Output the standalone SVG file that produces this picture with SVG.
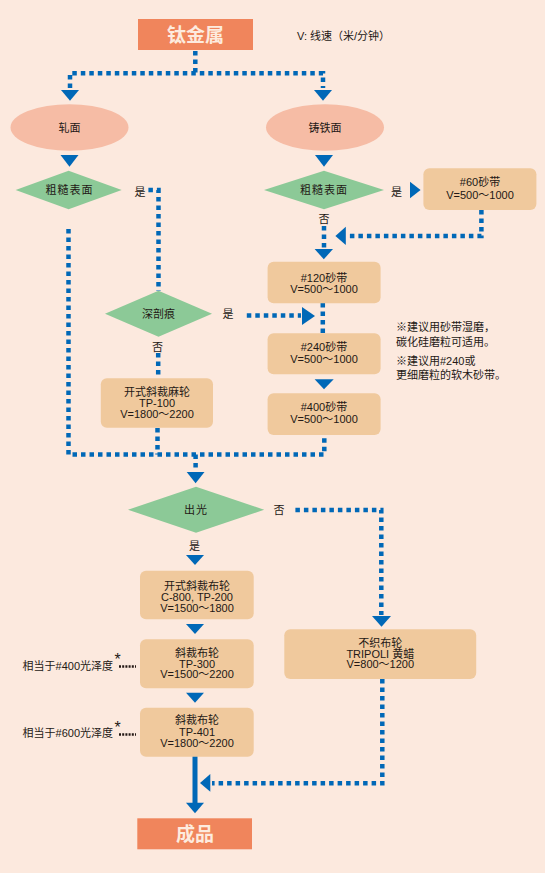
<svg xmlns="http://www.w3.org/2000/svg" width="545" height="873" viewBox="0 0 545 873">
<style>
text{font-family:"Liberation Sans","Noto Sans CJK SC",sans-serif;font-size:11px;fill:#231815}
.c{text-anchor:middle}
.big{font-size:19px;font-weight:bold;fill:#FDEBDF}
.term{fill:#F0855C}
.ell{fill:#F6BCA5}
.dia{fill:#8CC997}
.box{fill:#F0C99D}
.dot{fill:none;stroke:#0068B7;stroke-width:4.5;stroke-dasharray:4.5 4}
.arr{fill:#0068B7}
.lead{fill:none;stroke:#231815;stroke-width:2.4;stroke-dasharray:2 1.2}
.ast{font-size:16px}
</style>
<rect width="545" height="873" fill="#FCE9DE"/>

<g id="connectors">
<path class="dot" d="M195.3,51 V73.3"/>
<path class="dot" d="M70,88 V73.3 H323 V88"/>
<polygon class="arr" points="61,90 79,90 70,100.7"/>
<polygon class="arr" points="314,90 332,90 323,100.7"/>
<polygon class="arr" points="60.5,155 78.5,155 69.5,166.7"/>
<polygon class="arr" points="315,155 333,155 324,166.7"/>
<path class="dot" d="M148.4,190 H158.5 V291"/>
<path class="dot" d="M68.5,229 V454.5 H324.3 V435"/>
<path class="dot" d="M157.5,428 V454.5"/>
<path class="dot" d="M195.6,454.5 V471"/>
<polygon class="arr" points="410,181.7 410,198.3 420.6,190"/>
<path class="dot" d="M481.4,210 V236 H347"/>
<polygon class="arr" points="345.8,226.7 345.8,245 335.4,236"/>
<path class="dot" d="M324,226 V248"/>
<polygon class="arr" points="314.6,249 333,249 323.8,259.3"/>
<path class="dot" d="M322.8,303 V333"/>
<path class="dot" d="M246.8,315.5 H301"/>
<polygon class="arr" points="302,307 302,325 315,316"/>
<path class="dot" d="M158.2,353 V378"/>
<polygon class="arr" points="314.6,379.3 333.7,379.3 324,389.3"/>
<polygon class="arr" points="186.7,472 204.5,472 195.6,483.3"/>
<path class="dot" d="M295.4,510 H381.3 V615"/>
<polygon class="arr" points="372,616 391,616 381.5,626.7"/>
<polygon class="arr" points="186,555 204,555 195,565"/>
<polygon class="arr" points="186,624 204,624 195,634"/>
<polygon class="arr" points="186,692.7 204,692.7 195,702.7"/>
<line x1="195" y1="756" x2="195" y2="804" stroke="#0068B7" stroke-width="5"/>
<polygon class="arr" points="186,802.7 204,802.7 195,813.3"/>
<path class="dot" d="M382.3,679 V783.3 H212"/>
<polygon class="arr" points="210.3,774 210.3,791.7 200,783"/>
<path class="lead" d="M119,666.5 H136"/>
<path class="lead" d="M119,734.5 H136"/>
</g>

<g id="n-start"><rect class="term" x="138" y="19" width="115" height="31"/><text class="c big" x="195.5" y="41.5">钛金属</text></g>
<g id="legend"><text x="297" y="40">V: 线速（米/分钟）</text></g>

<g id="n-rolled"><ellipse class="ell" cx="69.5" cy="127.5" rx="59" ry="23.2"/><text class="c" x="69.5" y="131.5">轧面</text></g>
<g id="n-cast"><ellipse class="ell" cx="325" cy="127.5" rx="59" ry="23.2"/><text class="c" x="325" y="131.5">铸铁面</text></g>

<g id="n-rough-l"><polygon class="dia" points="15.6,190 68.6,170.7 121.7,190 68.6,209.3"/><text class="c" x="69.5" y="194" letter-spacing="1">粗糙表面</text><text class="c" x="140" y="195.7">是</text></g>
<g id="n-rough-r"><polygon class="dia" points="264,190 324,170.7 384,190 324,209.3"/><text class="c" x="324" y="194" letter-spacing="1">粗糙表面</text><text class="c" x="396.5" y="195.7">是</text><text class="c" x="324" y="223">否</text></g>

<g id="n-60"><rect class="box" x="423.4" y="168.3" width="113" height="41.7" rx="6"/><text class="c" x="480" y="186.3">#60砂带</text><text class="c" x="480" y="199">V=500～1000</text></g>
<g id="n-120"><rect class="box" x="267.6" y="261.7" width="113" height="41.6" rx="6"/><text class="c" x="324" y="281.7">#120砂带</text><text class="c" x="324" y="293.3">V=500～1000</text></g>

<g id="n-deep"><polygon class="dia" points="105,313.7 158.5,290.7 212,313.7 158.5,336.7"/><text class="c" x="158.5" y="318">深剖痕</text><text class="c" x="228" y="318">是</text><text class="c" x="157.5" y="350.7">否</text></g>

<g id="n-240"><rect class="box" x="267.6" y="333.3" width="113" height="41" rx="6"/><text class="c" x="324" y="350.7">#240砂带</text><text class="c" x="324" y="363">V=500～1000</text></g>
<g id="n-400"><rect class="box" x="267.6" y="393.3" width="113" height="41.7" rx="6"/><text class="c" x="324" y="411.3">#400砂带</text><text class="c" x="324" y="423.3">V=500～1000</text></g>

<g id="n-hemp"><rect class="box" x="100.8" y="378.3" width="112.2" height="49.4" rx="6"/><text class="c" x="157" y="395.7">开式斜裁麻轮</text><text class="c" x="157" y="407.3">TP-100</text><text class="c" x="157" y="418.3">V=1800～2200</text></g>

<g id="notes"><text x="396" y="331.3">※建议用砂带湿磨，</text><text x="396" y="346.3">碳化硅磨粒可适用。</text><text x="396" y="365">※建议用#240或</text><text x="396" y="379">更细磨粒的软木砂带。</text></g>

<g id="n-polish"><polygon class="dia" points="128,509.7 196,486.7 264.2,509.7 196,532.7"/><text class="c" x="196" y="513.7" letter-spacing="1">出光</text><text class="c" x="279" y="514">否</text><text class="c" x="194.6" y="549.7">是</text></g>

<g id="n-cloth1"><rect class="box" x="140" y="570.7" width="113.7" height="48.6" rx="6"/><text class="c" x="197" y="589.7">开式斜裁布轮</text><text class="c" x="197" y="600.7">C-800, TP-200</text><text class="c" x="197" y="611.7">V=1500～1800</text></g>
<g id="n-cloth2"><rect class="box" x="140" y="639.3" width="113.7" height="49" rx="6"/><text class="c" x="197" y="656.7">斜裁布轮</text><text class="c" x="197" y="668">TP-300</text><text class="c" x="197" y="678.3">V=1500～2200</text></g>
<g id="n-cloth3"><rect class="box" x="140" y="707.7" width="113.7" height="49" rx="6"/><text class="c" x="197" y="724">斜裁布轮</text><text class="c" x="197" y="735.7">TP-401</text><text class="c" x="197" y="746.7">V=1800～2200</text></g>

<g id="n-nonwoven"><rect class="box" x="284.3" y="629.3" width="191.9" height="49.7" rx="6"/><text class="c" x="380.3" y="646.7">不织布轮</text><text class="c" x="380.3" y="658">TRIPOLI 黄蜡</text><text class="c" x="380.3" y="668.3">V=800～1200</text></g>

<g id="gloss-labels"><text x="22.6" y="669.7">相当于#400光泽度</text><text class="ast" x="114.5" y="665">*</text><text x="22.6" y="737.3">相当于#600光泽度</text><text class="ast" x="114.5" y="733">*</text></g>

<g id="n-end"><rect class="term" x="137.3" y="818.3" width="114.7" height="31"/><text class="c big" x="195" y="840.8">成品</text></g>
</svg>
